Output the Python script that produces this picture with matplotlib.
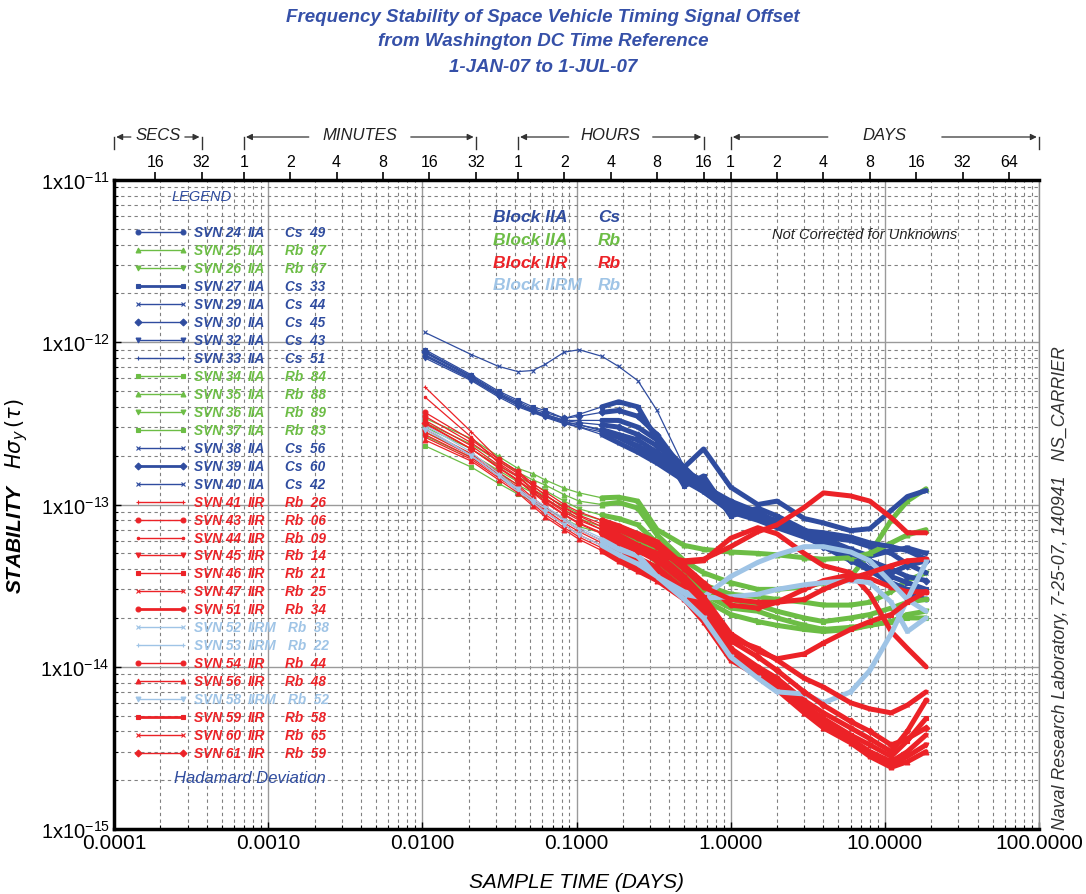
import numpy as np
import matplotlib
matplotlib.use("Agg")
import matplotlib.pyplot as plt

plt.rcParams['font.family'] = ['Liberation Sans', 'DejaVu Sans']

# ---------------------------------------------------------------- data
# sample times (days) and Hadamard deviation values in units of 1e-14
SCALE = 1e-14
tau = [0.0104, 0.0208, 0.03125, 0.0417, 0.0521, 0.0625, 0.0833, 0.104, 0.146,
       0.1875, 0.25, 0.333, 0.5, 0.667, 1.0, 1.5, 2.0, 3.0, 4.0, 6.0, 8.0,
       11.0, 14.0, 18.5]

svn24 = [82, 59, 47, 41, 37.5, 35, 32, 31, 29, 27, 25, 21, 16, 13, 10.5, 9.0, 7.8, 6.8, 6.0, 5.0, 4.0, 3.2, 2.8, 2.6]
svn25 = [32, 23.5, 18.5, 15.8, 14.2, 13.2, 11.5, 10.5, 10.0, 10.3, 9.5, 6.5, 4.5, 3.8, 3.3, 3.0, 3.0, 3.1, 3.3, 3.6, 5.0, 8.0, 10.5, 12.5]
svn26 = [30, 22, 17.3, 14.8, 13.3, 12.2, 10.5, 9.4, 8.6, 8.2, 7.5, 5.8, 4.0, 3.2, 2.8, 2.7, 2.6, 2.5, 2.4, 2.4, 2.5, 2.9, 3.4, 3.8]
svn27 = [90, 63, 50, 44, 40, 38, 34, 36, 40, 43, 40, 25, 13, 15, 8.5, 9.5, 8.5, 7.0, 6.0, 4.8, 4.0, 3.6, 3.3, 3.0]
svn29 = [84, 60, 48, 42, 38, 36, 33, 33, 33, 33, 30, 25, 17, 13, 10, 8.8, 7.5, 6.5, 6.3, 6.0, 5.5, 5.0, 4.3, 3.8]
svn30 = [88, 62, 49, 43, 39, 37, 34, 35, 37, 38, 35, 27, 16, 14, 9.5, 8.5, 8.0, 6.5, 5.5, 4.5, 4.0, 3.8, 4.2, 4.5]
svn32 = [80, 58, 46, 40, 37, 34.5, 31.5, 30, 28, 26, 23, 20, 15, 12.5, 10, 8.5, 7.5, 6.8, 6.2, 5.3, 4.8, 5.2, 5.4, 5.0]
svn33 = [86, 61, 48, 42, 38, 35.5, 32.5, 31, 28.5, 26, 22.5, 19, 14.5, 12, 9.0, 8.0, 7.2, 6.3, 5.6, 4.6, 3.9, 3.3, 3.0, 2.9]
svn34 = [28, 20.5, 16.2, 13.8, 12.4, 11.3, 9.8, 8.8, 8.0, 7.3, 6.6, 5.2, 3.7, 3.0, 2.6, 2.4, 2.2, 2.0, 1.9, 2.0, 2.1, 2.3, 2.5, 2.6]
svn35 = [34, 25.5, 19.8, 16.7, 15.5, 14.2, 12.6, 11.8, 11.0, 11.1, 10.5, 7.0, 5.6, 5.3, 5.1, 5.0, 4.9, 4.7, 4.6, 4.7, 5.0, 5.8, 6.5, 7.0]
svn36 = [26.5, 19.5, 15.5, 13.2, 11.8, 10.8, 9.3, 8.2, 7.3, 6.6, 6.0, 4.8, 3.5, 2.8, 2.3, 2.2, 2.0, 1.8, 1.7, 1.75, 1.8, 1.9, 2.1, 2.2]
svn37 = [23, 17, 13.5, 11.6, 10.4, 9.5, 8.2, 7.3, 6.7, 6.2, 5.6, 4.4, 3.2, 2.6, 2.1, 1.9, 1.8, 1.7, 1.65, 1.7, 1.8, 1.9, 2.0, 2.0]
svn38 = [115, 84, 71, 66, 67, 73, 87, 90, 82, 71, 58, 38, 17, 22, 12.8, 10.0, 10.5, 8.2, 7.7, 6.9, 7.1, 9.2, 11.2, 12.2]
svn39 = [87, 61, 48, 42, 38, 36, 33, 32, 31, 30, 27, 23, 16.5, 13.5, 9.8, 8.6, 7.7, 6.6, 5.8, 5.0, 4.5, 4.0, 3.6, 3.4]
svn40 = [83, 59, 47, 41, 37, 35, 32, 30, 27, 24, 21, 18, 14, 12, 9.3, 8.3, 7.4, 6.9, 6.7, 6.3, 5.8, 5.5, 5.2, 4.6]
svn41 = [53, 28, 19, 16, 13, 11.5, 9.5, 8.5, 7.3, 6.5, 5.6, 4.9, 4.5, 4.6, 5.5, 6.8, 7.5, 9.6, 11.8, 11.3, 10.5, 8.3, 6.7, 6.7]
svn43 = [37, 25, 19, 16, 13.5, 12, 10, 9.0, 8.0, 7.4, 6.6, 5.9, 4.2, 3.3, 2.4, 2.3, 2.5, 3.0, 3.4, 3.7, 3.5, 3.1, 2.9, 2.9]
svn44 = [46, 26, 18, 15, 12.5, 11, 9.2, 8.2, 7.0, 6.3, 5.5, 5.0, 4.4, 4.5, 6.2, 7.2, 6.6, 5.0, 4.2, 3.8, 2.8, 1.65, 1.3, 1.0]
svn45 = [26, 19, 14.6, 12.2, 10.1, 8.7, 7.2, 6.3, 5.4, 4.7, 4.1, 3.6, 2.7, 2.0, 1.15, 0.9, 0.75, 0.54, 0.44, 0.35, 0.29, 0.25, 0.28, 0.33]
svn46 = [28, 20, 15.3, 12.8, 10.7, 9.3, 7.7, 6.8, 5.8, 5.1, 4.5, 3.9, 2.9, 2.2, 1.25, 0.95, 0.8, 0.58, 0.48, 0.38, 0.33, 0.28, 0.35, 0.48]
svn47 = [27, 19.5, 15, 12.5, 10.4, 9.0, 7.5, 6.5, 5.6, 4.9, 4.3, 3.7, 2.8, 2.1, 1.2, 0.92, 0.78, 0.56, 0.46, 0.36, 0.3, 0.26, 0.3, 0.38]
svn51 = [29, 20.5, 15.8, 13.2, 11, 9.6, 8.0, 7.0, 6.0, 5.3, 4.7, 4.1, 3.0, 2.3, 1.3, 1.0, 0.85, 0.62, 0.52, 0.42, 0.36, 0.3, 0.4, 0.62]
svn52 = [30, 20, 15, 12, 10.5, 9.5, 8.0, 7.0, 6.0, 5.3, 4.8, 3.5, 2.8, 2.65, 2.7, 2.8, 3.0, 3.2, 3.3, 3.4, 3.3, 2.5, 1.65, 2.0]
svn53 = [31, 21, 15.5, 12.5, 10.8, 9.8, 8.2, 7.2, 6.2, 5.5, 4.9, 3.6, 2.9, 2.7, 3.6, 4.4, 4.9, 5.5, 5.5, 5.1, 4.5, 3.3, 2.6, 2.2]
svn54 = [35, 24, 18.5, 15.5, 13, 11.5, 9.6, 8.6, 7.6, 7.0, 6.2, 5.5, 4.0, 3.1, 2.6, 2.5, 2.5, 2.6, 3.0, 3.5, 3.8, 4.2, 4.5, 4.6]
svn56 = [25, 18.5, 14.2, 11.8, 9.8, 8.4, 7.0, 6.1, 5.2, 4.5, 3.9, 3.4, 2.6, 1.9, 1.1, 0.88, 0.72, 0.52, 0.42, 0.34, 0.28, 0.24, 0.26, 0.3]
svn58 = [29, 20, 15, 12.4, 10.3, 9.0, 7.5, 6.5, 5.6, 4.9, 4.3, 3.6, 2.6, 2.0, 1.15, 0.85, 0.7, 0.68, 0.6, 0.7, 0.95, 1.6, 2.6, 4.4]
svn59 = [33, 23, 17.5, 14.8, 12.3, 10.8, 9.0, 8.0, 7.0, 6.3, 5.6, 5.0, 3.6, 2.7, 1.6, 1.25, 1.12, 1.2, 1.4, 1.7, 1.9, 2.1, 2.5, 2.9]
svn60 = [31.5, 22, 16.8, 14, 11.8, 10.3, 8.6, 7.6, 6.6, 5.8, 5.2, 4.6, 3.4, 2.6, 1.5, 1.3, 1.1, 0.85, 0.75, 0.6, 0.55, 0.52, 0.58, 0.7]
svn61 = [32, 22, 17, 14.2, 12, 10.5, 8.7, 7.7, 6.7, 5.9, 5.2, 4.5, 3.3, 2.5, 1.45, 1.15, 0.95, 0.7, 0.58, 0.46, 0.4, 0.33, 0.36, 0.42]

BLUE = '#2f4c9f'
GREEN = '#6cbd45'
RED = '#ec2227'
LBLUE = '#9fc4e6'

# (svn, block, clock, color, marker, values)
series = [
    ('24', 'IIA', 'Cs  49', BLUE, 'o', svn24),
    ('25', 'IIA', 'Rb  87', GREEN, '^', svn25),
    ('26', 'IIA', 'Rb  67', GREEN, 'v', svn26),
    ('27', 'IIA', 'Cs  33', BLUE, 's', svn27),
    ('29', 'IIA', 'Cs  44', BLUE, 'x', svn29),
    ('30', 'IIA', 'Cs  45', BLUE, 'D', svn30),
    ('32', 'IIA', 'Cs  43', BLUE, 'v', svn32),
    ('33', 'IIA', 'Cs  51', BLUE, '+', svn33),
    ('34', 'IIA', 'Rb  84', GREEN, 's', svn34),
    ('35', 'IIA', 'Rb  88', GREEN, '^', svn35),
    ('36', 'IIA', 'Rb  89', GREEN, 'v', svn36),
    ('37', 'IIA', 'Rb  83', GREEN, 's', svn37),
    ('38', 'IIA', 'Cs  56', BLUE, 'x', svn38),
    ('39', 'IIA', 'Cs  60', BLUE, 'D', svn39),
    ('40', 'IIA', 'Cs  42', BLUE, 'x', svn40),
    ('41', 'IIR', 'Rb  26', RED, '+', svn41),
    ('43', 'IIR', 'Rb  06', RED, 'o', svn43),
    ('44', 'IIR', 'Rb  09', RED, '.', svn44),
    ('45', 'IIR', 'Rb  14', RED, 'v', svn45),
    ('46', 'IIR', 'Rb  21', RED, 's', svn46),
    ('47', 'IIR', 'Rb  25', RED, 'x', svn47),
    ('51', 'IIR', 'Rb  34', RED, 'o', svn51),
    ('52', 'IIRM', 'Rb  38', LBLUE, 'x', svn52),
    ('53', 'IIRM', 'Rb  22', LBLUE, '+', svn53),
    ('54', 'IIR', 'Rb  44', RED, 'o', svn54),
    ('56', 'IIR', 'Rb  48', RED, '^', svn56),
    ('58', 'IIRM', 'Rb  52', LBLUE, 'v', svn58),
    ('59', 'IIR', 'Rb  58', RED, 's', svn59),
    ('60', 'IIR', 'Rb  65', RED, 'x', svn60),
    ('61', 'IIR', 'Rb  59', RED, 'D', svn61),
]

block_rows = [('Block IIA', 'Cs', BLUE), ('Block IIA', 'Rb', GREEN),
              ('Block IIR', 'Rb', RED), ('Block IIRM', 'Rb', LBLUE)]

title_lines = ['Frequency Stability of Space Vehicle Timing Signal Offset',
               'from Washington DC Time Reference',
               '1-JAN-07 to 1-JUL-07']

x_major = [1e-4, 1e-3, 1e-2, 1e-1, 1, 10, 100]
x_major_labels = ['0.0001', '0.0010', '0.0100', '0.1000', '1.0000', '10.0000', '100.0000']
y_major = [1e-15, 1e-14, 1e-13, 1e-12, 1e-11]
y_major_labels = [r'1x10$^{\mathregular{-15}}$', r'1x10$^{\mathregular{-14}}$',
                  r'1x10$^{\mathregular{-13}}$', r'1x10$^{\mathregular{-12}}$',
                  r'1x10$^{\mathregular{-11}}$']

# top axis: (unit name, start day, end day, tick values, days per unit, gap px)
secs_ticks = [16, 32]
min_ticks = [1, 2, 4, 8, 16, 32]
hour_ticks = [1, 2, 4, 8, 16]
day_ticks = [1, 2, 4, 8, 16, 32, 64]
units = [('SECS', 1e-4, 32 / 86400, secs_ticks, 1 / 86400, 27),
         ('MINUTES', 1 / 1440, 32 / 1440, min_ticks, 1 / 1440, 51),
         ('HOURS', 1 / 24, 16 / 24, hour_ticks, 1 / 24, 42),
         ('DAYS', 1, 100, day_ticks, 1, 57)]

# ---------------------------------------------------------------- figure
fig = plt.figure(figsize=(10.86, 8.95), dpi=100)
ax = fig.add_axes([0.105, 0.0726, 0.8517, 0.7251])
ax.set_xscale('log')
ax.set_yscale('log')
ax.set_xlim(1e-4, 100)
ax.set_ylim(1e-15, 1e-11)

ax.grid(which='major', color='#9a9a9a', lw=1.0, ls='-')
ax.grid(which='minor', color='#808080', lw=0.8, ls=(0, (3, 3)))
ax.set_axisbelow(True)

t = np.array(tau)
for svn, blk, clk, col, mk, vals in series:
    v = np.array(vals) * SCALE
    start = 12 if svn == '38' else 8
    ax.plot(t, v, color=col, lw=0.9, marker=mk, ms=3.5, mew=0.8, zorder=3)
    ax.plot(t[start:], v[start:], color=col, lw=3.6, solid_capstyle='round',
            solid_joinstyle='round', zorder=3)

ax.set_xticks(x_major)
ax.set_xticklabels(x_major_labels)
ax.set_yticks(y_major)
ax.set_yticklabels(y_major_labels)
ax.tick_params(axis='both', which='major', direction='in', length=5, width=1,
               pad=3)
ax.tick_params(axis='x', which='major', labelsize=15)
ax.tick_params(axis='y', which='major', labelsize=14.5)
ax.tick_params(axis='both', which='minor', direction='in', length=3, width=0.8)
ax.tick_params(axis='x', which='both', top=False)
ax.tick_params(axis='y', which='both', right=False)

for side in ['left', 'bottom', 'top']:
    ax.spines[side].set_linewidth(2.5)
    ax.spines[side].set_color('black')
ax.spines['right'].set_linewidth(1.0)
ax.spines['right'].set_color('#888888')

ax.set_xlabel('SAMPLE TIME (DAYS)', fontsize=15, style='italic')
ax.xaxis.set_label_coords(0.5, -0.066)
ax.set_ylabel(r'STABILITY   $H\sigma_y\,(\tau)$', fontsize=15, style='italic',
              fontweight='bold')
ax.yaxis.set_label_coords(-0.091, 0.515)

# top axis
ax2 = ax.twiny()
ax2.set_xscale('log')
ax2.set_xlim(ax.get_xlim())
top_pos = []
top_lbl = []
for name, a, b, ticks, per, gap in units:
    for k in ticks:
        top_pos.append(k * per)
        top_lbl.append(str(k))
ax2.set_xticks(top_pos)
ax2.set_xticklabels(top_lbl)
ax2.xaxis.set_minor_locator(matplotlib.ticker.NullLocator())
ax2.tick_params(axis='x', direction='out', length=6, width=1.2, labelsize=11.5, pad=2)
for s in ax2.spines.values():
    s.set_visible(False)

# unit brackets above top axis
def day_to_px(d):
    return ax.transData.transform((d, 1e-13))[0]

to_fig = fig.transFigure.inverted()
y_line = 1 - 138 / 895
y_low = 1 - 150 / 895
for name, a, b, ticks, per, gap in units:
    xa = day_to_px(a)
    xb = day_to_px(b)
    xm = 0.5 * (xa + xb)
    fa = to_fig.transform((xa, 0))[0]
    fb = to_fig.transform((xb, 0))[0]
    fm = to_fig.transform((xm, 0))[0]
    fl = to_fig.transform((xm - gap, 0))[0]
    fr = to_fig.transform((xm + gap, 0))[0]
    fig.add_artist(plt.Line2D([fa, fa], [y_low, y_line], color='#333333', lw=1.0))
    fig.add_artist(plt.Line2D([fb, fb], [y_low, y_line], color='#333333', lw=1.0))
    ax.annotate('', xy=(fa + 0.002, y_line), xytext=(fl, y_line),
                xycoords='figure fraction', textcoords='figure fraction',
                arrowprops=dict(arrowstyle='-|>', color='#333333', lw=0.9,
                                mutation_scale=9, shrinkA=0, shrinkB=0))
    ax.annotate('', xy=(fb - 0.002, y_line), xytext=(fr, y_line),
                xycoords='figure fraction', textcoords='figure fraction',
                arrowprops=dict(arrowstyle='-|>', color='#333333', lw=0.9,
                                mutation_scale=9, shrinkA=0, shrinkB=0))
    fig.text(fm, 1 - 135 / 895, name, ha='center', va='center', fontsize=12,
             style='italic', color='#222222')

# title
for i, line in enumerate(title_lines):
    fig.text(0.5, 1 - (17 + 25 * i) / 895, line, ha='center', va='center',
             fontsize=13.5, fontweight='bold', style='italic', color='#3550a8')

# legend block
ax.text(0.095, 0.975, 'LEGEND', transform=ax.transAxes, ha='center', va='center',
        fontsize=10.5, style='italic', color=BLUE)
y0 = 0.9199
dy = 0.02769
for i, (svn, blk, clk, col, mk, vals) in enumerate(series):
    yy = y0 - i * dy
    lw = 2.0 if svn in ('27', '39', '51', '59') else 1.0
    ax.plot([0.0259, 0.0746], [yy, yy], transform=ax.transAxes, color=col, lw=lw,
            marker=mk, ms=3.5, mew=0.8, clip_on=False, zorder=4)
    kw = dict(transform=ax.transAxes, va='center', fontsize=9.8,
              fontweight='bold', style='italic', color=col, zorder=4)
    ax.text(0.0865, yy, 'SVN ' + svn, ha='left', **kw)
    ax.text(0.1445, yy, blk, ha='left', **kw)
    ax.text(0.1849 + (0.003 if blk == 'IIRM' else 0), yy, clk, ha='left', **kw)
ax.text(0.147, 0.080, 'Hadamard Deviation', transform=ax.transAxes, ha='center',
        va='center', fontsize=12, style='italic', color=BLUE)

# block/clock key
for i, (blk, clk, col) in enumerate(block_rows):
    yy = 0.9445 - i * 0.0354
    ax.text(0.4097, yy, blk, transform=ax.transAxes, ha='left', va='center',
            fontsize=12.5, fontweight='bold', style='italic', color=col)
    ax.text(0.523, yy, clk, transform=ax.transAxes, ha='left', va='center',
            fontsize=12.5, fontweight='bold', style='italic', color=col)

ax.text(0.811, 0.917, 'Not Corrected for Unknowns', transform=ax.transAxes,
        ha='center', va='center', fontsize=10.5, style='italic', color='#222222')

fig.text(0.9765, 0.0726, 'Naval Research Laboratory, 7-25-07, 140941   NS_CARRIER',
         rotation=90, ha='center', va='bottom', fontsize=12.8, style='italic',
         color='#333333')

fig.savefig('out.png', dpi=100)
